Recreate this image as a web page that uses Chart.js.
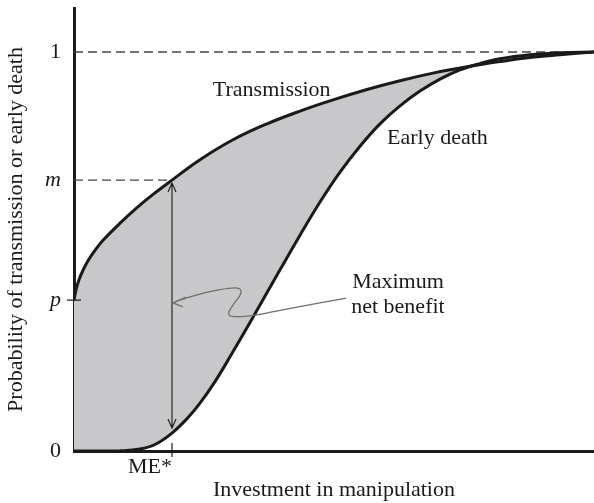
<!DOCTYPE html>
<html><head><meta charset="utf-8">
<script src="https://cdn.jsdelivr.net/npm/chart.js@4.4.0/dist/chart.umd.min.js"></script>
<style>html,body{margin:0;padding:0;background:#fff;}#wrap{width:594px;height:503px;}</style>
</head><body><div id="wrap"><canvas id="c" width="594" height="503"></canvas></div>
<script>
// ---- values ----
const P = 0.378, M = 0.679, ME = 18.846;
const yTickValues = [0, P, M, 1];
const yTickLabels = ['0', 'p', 'm', '1'];
const xTickValues = [ME];
const xTickLabels = ['ME*'];

const transX = [0, 0.385, 0.962, 1.731, 2.692, 4.038, 5.577, 8.846, 12.115, 15.385, 18.846, 24.231, 30.577, 37.115, 43.462, 49.808, 56.346, 62.692, 69.038, 75.577, 81.923, 87.692, 93.462, 100];
const transY = [0.378, 0.404, 0.429, 0.453, 0.477, 0.503, 0.528, 0.571, 0.610, 0.645, 0.679, 0.730, 0.780, 0.820, 0.852, 0.880, 0.906, 0.928, 0.947, 0.963, 0.976, 0.986, 0.993, 1.0];

const deathX = [0, 5.0, 8.846, 12.692, 15.577, 18.846, 21.731, 24.231, 27.115, 30.0, 34.423, 39.615, 43.462, 47.308, 51.154, 55.0, 58.846, 62.692, 66.538, 70.385, 74.231, 78.077, 81.923, 87.692, 93.462, 100];
const deathY = [0, 0, 0.0005, 0.005, 0.0163, 0.045, 0.081, 0.120, 0.174, 0.236, 0.335, 0.454, 0.541, 0.624, 0.699, 0.764, 0.820, 0.865, 0.902, 0.932, 0.955, 0.971, 0.983, 0.993, 0.998, 1.0];

// curly pointer from "Maximum net benefit" to the double arrow (data coords)
const pointerX = [52.31, 39.62, 34.42, 30.0, 29.62, 30.58, 32.31, 31.92, 30.0, 25.58, 20.38, 19.04];
const pointerY = [0.383, 0.353, 0.338, 0.336, 0.346, 0.366, 0.396, 0.409, 0.409, 0.399, 0.379, 0.371];

const FONT = '"Liberation Serif", "Times New Roman", serif';
const INK = '#1a1a1a';

const toXY = (xs, ys) => xs.map((x, i) => ({x, y: ys[i]}));

const decor = {
  id: 'decor',
  beforeDatasetsDraw(chart) {
    const {ctx, scales: {x, y}} = chart;
    ctx.save();
    ctx.strokeStyle = '#444';
    ctx.lineWidth = 1.3;
    ctx.setLineDash([9, 5]);
    ctx.beginPath();
    ctx.moveTo(x.getPixelForValue(0), y.getPixelForValue(1));
    ctx.lineTo(x.getPixelForValue(100), y.getPixelForValue(1));
    ctx.moveTo(x.getPixelForValue(0), y.getPixelForValue(M));
    ctx.lineTo(x.getPixelForValue(ME), y.getPixelForValue(M));
    ctx.stroke();
    ctx.restore();
  },
  afterDatasetsDraw(chart) {
    const {ctx, scales: {x, y}} = chart;
    ctx.save();
    // tick marks at p and ME*
    ctx.strokeStyle = INK;
    ctx.lineWidth = 1.2;
    ctx.beginPath();
    const x0 = x.getPixelForValue(0), yp = y.getPixelForValue(P);
    ctx.moveTo(x0 - 7, yp); ctx.lineTo(x0 + 7, yp);
    const xm = x.getPixelForValue(ME), y0 = y.getPixelForValue(0);
    ctx.moveTo(xm, y0 - 8); ctx.lineTo(xm, y0 + 6);
    ctx.stroke();

    // double-headed vertical arrow at ME*
    const top = y.getPixelForValue(M) + 3;
    const bot = y.getPixelForValue(deathY[deathX.indexOf(ME)]) - 5;
    ctx.lineWidth = 1.1;
    ctx.beginPath();
    ctx.moveTo(xm, top); ctx.lineTo(xm, bot);
    ctx.moveTo(xm - 4, top + 9); ctx.lineTo(xm, top); ctx.lineTo(xm + 4, top + 9);
    ctx.moveTo(xm - 4, bot - 9); ctx.lineTo(xm, bot); ctx.lineTo(xm + 4, bot - 9);
    ctx.stroke();

    // curly grey pointer
    const pts = pointerX.map((v, i) => [x.getPixelForValue(v), y.getPixelForValue(pointerY[i])]);
    ctx.strokeStyle = '#707070';
    ctx.lineWidth = 1.3;
    ctx.beginPath();
    ctx.moveTo(pts[0][0], pts[0][1]);
    for (let i = 1; i < pts.length - 1; i++) {
      const mx = (pts[i][0] + pts[i + 1][0]) / 2, my = (pts[i][1] + pts[i + 1][1]) / 2;
      ctx.quadraticCurveTo(pts[i][0], pts[i][1], mx, my);
    }
    const tip = pts[pts.length - 1];
    ctx.lineTo(tip[0], tip[1]);
    ctx.stroke();
    ctx.beginPath();
    ctx.moveTo(tip[0] + 13, tip[1] - 6);
    ctx.lineTo(tip[0], tip[1]);
    ctx.lineTo(tip[0] + 10, tip[1] + 4);
    ctx.stroke();

    // text labels
    ctx.fillStyle = INK;
    ctx.font = '22px ' + FONT;
    ctx.textBaseline = 'alphabetic';
    ctx.textAlign = 'left';
    ctx.fillText('Transmission', x.getPixelForValue(26.7), y.getPixelForValue(0.89));
    ctx.fillText('Early death', x.getPixelForValue(60.2), y.getPixelForValue(0.769));
    ctx.textAlign = 'center';
    ctx.fillText('Maximum', x.getPixelForValue(62.3), y.getPixelForValue(0.409));
    ctx.fillText('net benefit', x.getPixelForValue(62.3), y.getPixelForValue(0.346));
    ctx.restore();
  }
};

new Chart(document.getElementById('c'), {
  type: 'line',
  data: {
    datasets: [
      {
        label: 'Transmission',
        data: toXY(transX, transY),
        borderColor: INK, borderWidth: 3,
        pointRadius: 0,
        tension: 0.4,
        fill: '+1',
        backgroundColor: '#c8c8ca'
      },
      {
        label: 'Early death',
        data: toXY(deathX, deathY),
        borderColor: INK, borderWidth: 3,
        pointRadius: 0,
        tension: 0.4,
        fill: false
      }
    ]
  },
  options: {
    responsive: false,
    animation: false,
    devicePixelRatio: 1,
    layout: {padding: {top: 8, right: 0, left: 0, bottom: 0}},
    plugins: {
      legend: {display: false},
      tooltip: {enabled: false},
      filler: {drawTime: 'beforeDatasetsDraw'}
    },
    scales: {
      x: {
        type: 'linear', min: 0, max: 100,
        grid: {display: false, drawTicks: false, tickLength: 0},
        border: {display: true, color: INK, width: 3},
        afterBuildTicks: s => { s.ticks = xTickValues.map(v => ({value: v})); },
        afterFit: s => { s.height = 52; s.paddingLeft = 0; s.paddingRight = 0; },
        ticks: {
          autoSkip: false, maxRotation: 0, align: 'end', padding: 3, color: INK,
          font: {family: FONT, size: 22},
          callback: (v) => xTickLabels[xTickValues.indexOf(v)] ?? ''
        },
        title: {display: true, text: 'Investment in manipulation', color: INK,
          font: {family: FONT, size: 22}, padding: {top: 0, bottom: 0}}
      },
      y: {
        type: 'linear', min: 0, max: 1.1103,
        grid: {display: false, drawTicks: false, tickLength: 0},
        border: {display: true, color: INK, width: 3},
        afterBuildTicks: s => { s.ticks = yTickValues.map(v => ({value: v})); },
        afterFit: s => { s.width = 74; s.paddingTop = 0; s.paddingBottom = 0; },
        ticks: {
          autoSkip: false, padding: 13, color: INK,
          font: (c) => {
            const lab = yTickLabels[yTickValues.indexOf(c.tick ? c.tick.value : -1)];
            return {family: FONT, size: 22, style: (lab === 'p' || lab === 'm') ? 'italic' : 'normal'};
          },
          callback: (v) => yTickLabels[yTickValues.indexOf(v)] ?? ''
        },
        title: {display: true, text: 'Probability of transmission or early death', color: INK,
          font: {family: FONT, size: 22}, padding: {top: 3, bottom: 0}}
      }
    }
  },
  plugins: [decor]
});
</script>
</body></html>
